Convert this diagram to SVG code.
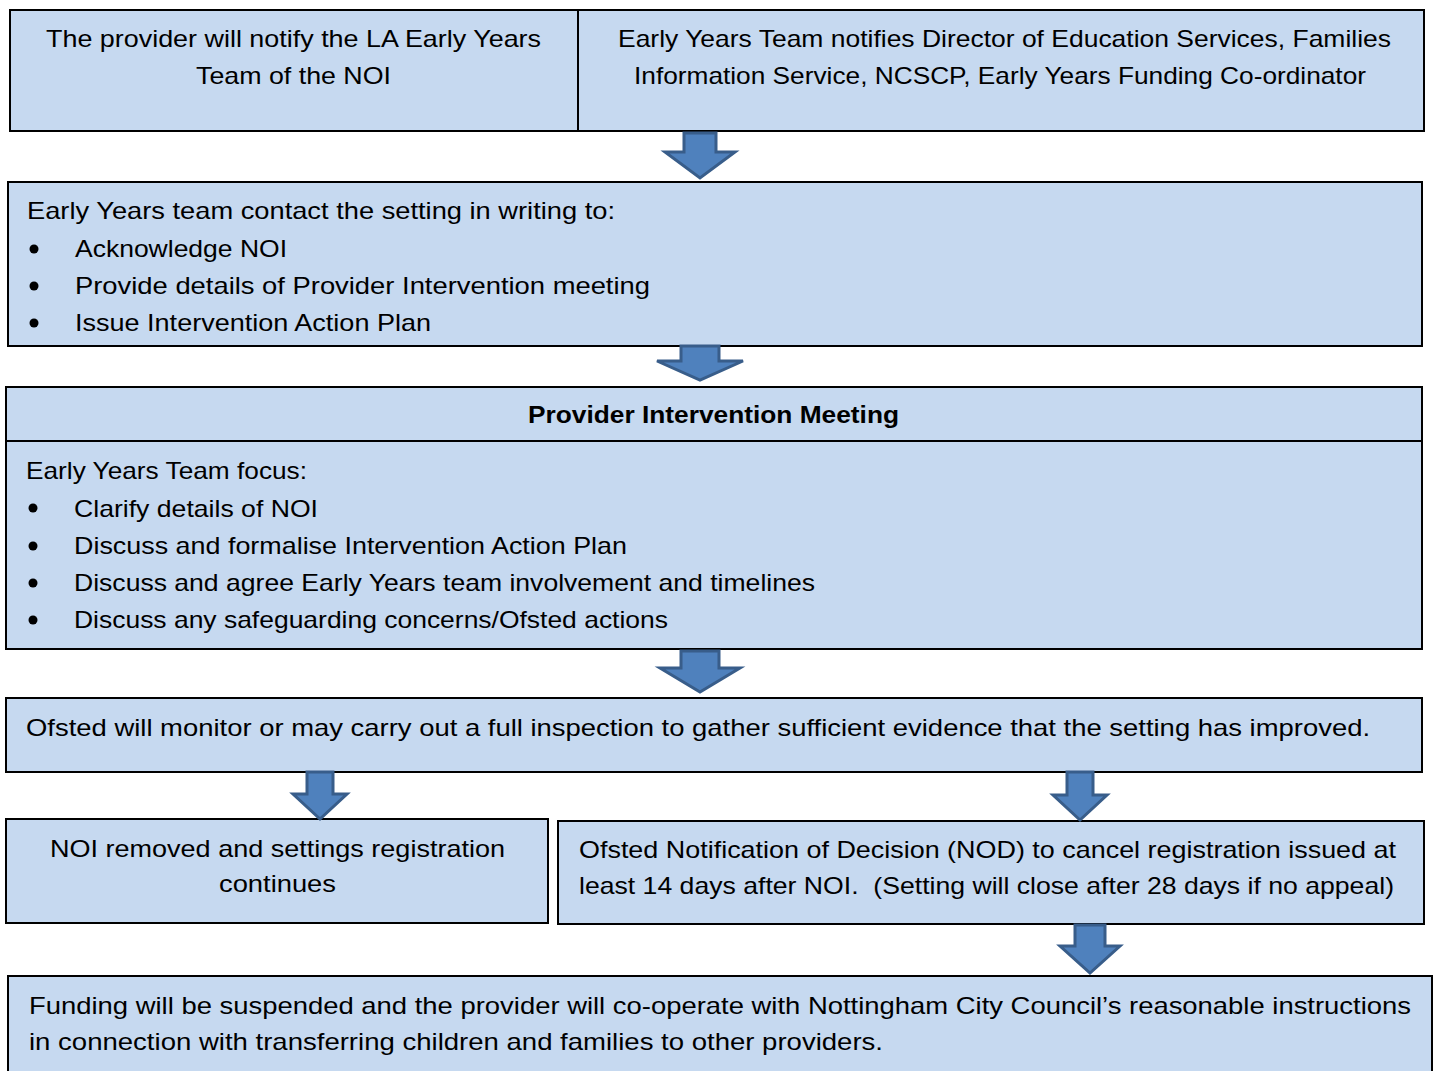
<svg xmlns="http://www.w3.org/2000/svg" width="1435" height="1071" viewBox="0 0 1435 1071">
<style>
.box{fill:#c6d9f0;stroke:#000;stroke-width:2}
.t{font-family:"Liberation Sans","Open Sans",Arial,sans-serif;font-size:24px;fill:#000}
.b{font-weight:bold}
.arr{fill:#4f81bd;stroke:#385d8a;stroke-width:3;stroke-linejoin:miter}
</style>
<rect width="1435" height="1071" fill="#fff"/>
<g id="n1">
<rect class="box" x="10" y="10" width="568" height="121"/>
<text class="t" x="46" y="47" textLength="495" lengthAdjust="spacingAndGlyphs">The provider will notify the LA Early Years</text>
<text class="t" x="196" y="84" textLength="195" lengthAdjust="spacingAndGlyphs">Team of the NOI</text>
</g>
<g id="n2">
<rect class="box" x="578" y="10" width="846" height="121"/>
<text class="t" x="618" y="47" textLength="773" lengthAdjust="spacingAndGlyphs">Early Years Team notifies Director of Education Services, Families</text>
<text class="t" x="634" y="84" textLength="732" lengthAdjust="spacingAndGlyphs">Information Service, NCSCP, Early Years Funding Co-ordinator</text>
</g>
<g id="n3">
<rect class="box" x="8" y="182" width="1414" height="164"/>
<text class="t" x="27" y="219" textLength="588" lengthAdjust="spacingAndGlyphs">Early Years team contact the setting in writing to:</text>
<circle cx="34" cy="249" r="4.5"/><circle cx="34" cy="286" r="4.5"/><circle cx="34" cy="323" r="4.5"/>
<text class="t" x="75" y="257" textLength="212" lengthAdjust="spacingAndGlyphs">Acknowledge NOI</text>
<text class="t" x="75" y="294" textLength="575" lengthAdjust="spacingAndGlyphs">Provide details of Provider Intervention meeting</text>
<text class="t" x="75" y="331" textLength="356" lengthAdjust="spacingAndGlyphs">Issue Intervention Action Plan</text>
</g>
<g id="n4">
<rect class="box" x="6" y="387" width="1416" height="54"/>
<text class="t b" x="528" y="423" textLength="371" lengthAdjust="spacingAndGlyphs">Provider Intervention Meeting</text>
<rect class="box" x="6" y="441" width="1416" height="208"/>
<text class="t" x="26" y="479" textLength="281" lengthAdjust="spacingAndGlyphs">Early Years Team focus:</text>
<circle cx="33" cy="508" r="4.5"/><circle cx="33" cy="546" r="4.5"/><circle cx="33" cy="583" r="4.5"/><circle cx="33" cy="620" r="4.5"/>
<text class="t" x="74" y="517" textLength="244" lengthAdjust="spacingAndGlyphs">Clarify details of NOI</text>
<text class="t" x="74" y="554" textLength="553" lengthAdjust="spacingAndGlyphs">Discuss and formalise Intervention Action Plan</text>
<text class="t" x="74" y="591" textLength="741" lengthAdjust="spacingAndGlyphs">Discuss and agree Early Years team involvement and timelines</text>
<text class="t" x="74" y="628" textLength="594" lengthAdjust="spacingAndGlyphs">Discuss any safeguarding concerns/Ofsted actions</text>
</g>
<g id="n5">
<rect class="box" x="6" y="698" width="1416" height="74"/>
<text class="t" x="26" y="736" textLength="1344" lengthAdjust="spacingAndGlyphs">Ofsted will monitor or may carry out a full inspection to gather sufficient evidence that the setting has improved.</text>
</g>
<g id="n6">
<rect class="box" x="6" y="819" width="542" height="104"/>
<text class="t" x="50" y="857" textLength="455" lengthAdjust="spacingAndGlyphs">NOI removed and settings registration</text>
<text class="t" x="219" y="892" textLength="117" lengthAdjust="spacingAndGlyphs">continues</text>
</g>
<g id="n7">
<rect class="box" x="558" y="821" width="866" height="103"/>
<text class="t" x="579" y="858" textLength="817" lengthAdjust="spacingAndGlyphs">Ofsted Notification of Decision (NOD) to cancel registration issued at</text>
<text class="t" x="579" y="894" textLength="815" lengthAdjust="spacingAndGlyphs" xml:space="preserve">least 14 days after NOI.  (Setting will close after 28 days if no appeal)</text>
</g>
<g id="n8">
<rect class="box" x="8" y="976" width="1424" height="100"/>
<text class="t" x="29" y="1014" textLength="1382" lengthAdjust="spacingAndGlyphs">Funding will be suspended and the provider will co-operate with Nottingham City Council’s reasonable instructions</text>
<text class="t" x="29" y="1050" textLength="854" lengthAdjust="spacingAndGlyphs">in connection with transferring children and families to other providers.</text>
</g>
<g id="connectors">
<polygon class="arr" points="684,133 716,133 716,152 735,152 700,178 665,152 684,152"/>
<polygon class="arr" points="681,346 719,346 719,361 743,361 700,380 657,361 681,361"/>
<polygon class="arr" points="681,651 719,651 719,668 740,668 700,692 660,668 681,668"/>
<polygon class="arr" points="307,772 333,772 333,794 347,794 320,819 293,794 307,794"/>
<polygon class="arr" points="1067,772 1093,772 1093,795 1107,795 1080,820 1053,795 1067,795"/>
<polygon class="arr" points="1075,925 1105,925 1105,946 1120,946 1090,973 1060,946 1075,946"/>
</g>
</svg>
